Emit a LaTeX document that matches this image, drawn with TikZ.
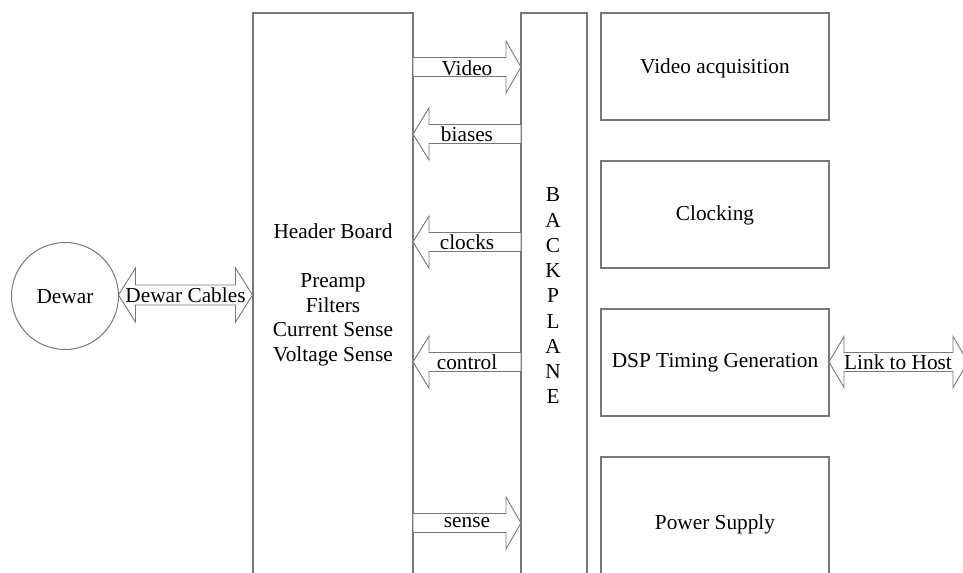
\documentclass[tikz,border=0pt]{standalone}
\usepackage{fontspec}
\setmainfont{Liberation Serif}
\definecolor{linegray}{RGB}{120,120,120}
\tikzset{
  box/.style={draw=linegray, line width=1.2bp},
  blockarrow/.style={draw=linegray, line width=0.9bp, fill=white, line join=miter},
  lbl/.style={inner sep=0pt, font=\fontsize{21.3bp}{24.5bp}\selectfont, text=black},
}
% right-pointing arrow: #1 left x, #2 tip x, #3 centre y
\newcommand{\rblock}[3]{%
  \draw[blockarrow] (#1,#3-9.5) -- (#2-15,#3-9.5) -- (#2-15,#3-26) -- (#2,#3)
    -- (#2-15,#3+26) -- (#2-15,#3+9.5) -- (#1,#3+9.5) -- cycle;}
% left-pointing arrow: #1 tip x, #2 right x, #3 centre y
\newcommand{\lblock}[3]{%
  \draw[blockarrow] (#2,#3-9.5) -- (#1+16,#3-9.5) -- (#1+16,#3-26) -- (#1,#3)
    -- (#1+16,#3+26) -- (#1+16,#3+9.5) -- (#2,#3+9.5) -- cycle;}
% double arrow: #1 left tip, #2 right tip, #3 centre y, #4 shaft half, #5 head half, #6 head length
\newcommand{\dblock}[6]{%
  \draw[blockarrow] (#1,#3) -- (#1+#6,#3-#5) -- (#1+#6,#3-#4) -- (#2-#6,#3-#4)
    -- (#2-#6,#3-#5) -- (#2,#3) -- (#2-#6,#3+#5) -- (#2-#6,#3+#4)
    -- (#1+#6,#3+#4) -- (#1+#6,#3+#5) -- cycle;}
\begin{document}
\begin{tikzpicture}[x=1bp,y=-1bp]
\useasboundingbox (0,0) rectangle (963,573);
\clip (0,0) rectangle (963,573);
\fill[white] (0,0) rectangle (963,573);

% Dewar
\draw[draw=linegray, line width=1bp] (65,296) circle (53.5);
\node[lbl] (dewar) at (65,297) {Dewar};

% Header board
\draw[box] (253,600) -- (253,13) -- (413,13) -- (413,600);
\node[lbl, align=center] (hb) at (333,295)
  {Header Board\\[24.5bp]Preamp\\Filters\\Current Sense\\Voltage Sense};

% Backplane
\draw[box] (521,600) -- (521,13) -- (587,13) -- (587,600);
\node[lbl, align=center, font=\fontsize{21.3bp}{25.25bp}\selectfont] (bp) at (553,296)
  {B\\A\\C\\K\\P\\L\\A\\N\\E};

% Right boxes
\draw[box] (601,13) rectangle (829,120);
\node[lbl] (va) at (715,68) {Video acquisition};
\draw[box] (601,161) rectangle (829,268);
\node[lbl] (clk) at (715,215) {Clocking};
\draw[box] (601,309) rectangle (829,416);
\node[lbl] (dsp) at (715,363) {DSP Timing Generation};
\draw[box] (601,600) -- (601,457) -- (829,457) -- (829,600);
\node[lbl] (ps) at (715,524) {Power Supply};

% Block arrows between header board and backplane
\rblock{413}{521}{67}
\node[lbl] (video) at (467,68) {Video};
\lblock{413}{521}{134}
\node[lbl] (biases) at (467,134) {biases};
\lblock{413}{521}{242}
\node[lbl] (clocks) at (467,242) {clocks};
\lblock{413}{521}{362}
\node[lbl] (control) at (467,362) {control};
\rblock{413}{521}{523}
\node[lbl] (sense) at (467,523) {sense};

% Double arrows
\dblock{118.5}{252.5}{295}{10}{27}{17}
\node[lbl] (cables) at (185.5,295) {Dewar Cables};
\dblock{829}{968}{362}{9.5}{25.5}{15}
\node[lbl] (link) at (898,362) {Link to Host};
\end{tikzpicture}
\end{document}
